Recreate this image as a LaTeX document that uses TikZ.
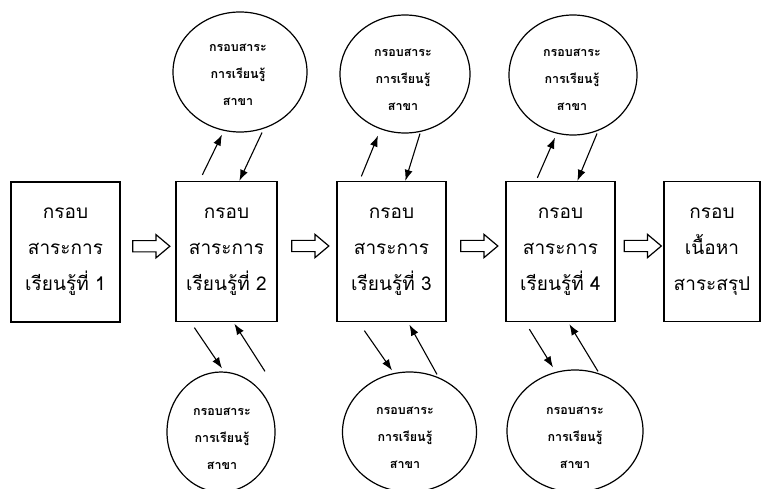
\documentclass[tikz,border=0pt]{standalone}
\usepackage{fontspec}
\newfontfamily\thai[Script=Thai]{Loma}
\usetikzlibrary{shapes.geometric,shapes.arrows,arrows.meta,calc}
\begin{document}
\begin{tikzpicture}[x=1pt,y=-1pt,
  box/.style={draw,line width=1.3pt,minimum width=#1,minimum height=140pt,inner sep=0pt,align=center,font=\thai\fontsize{19}{36}\selectfont},
  ell/.style={draw,ellipse,line width=1.2pt,inner sep=0pt},
  ctext/.style={align=center,inner sep=0pt,font=\thai\bfseries\fontsize{12.5}{27}\selectfont},
  conn/.style={line width=1.1pt,-{Latex[length=11pt,width=8pt]}},
  harrow/.style={draw,line width=1.2pt,single arrow,minimum height=37pt,minimum width=22pt,inner sep=5pt,single arrow head extend=6pt,single arrow tip angle=80}]
\useasboundingbox (0,0) rectangle (763,489);
\fill[white] (0,0) rectangle (763,489);
% boxes
\node[box=109pt] (b1) at (65.5,252) {กรอบ\\สาระการ\\เรียนรู้ที่ 1};
\node[box=101pt] (b2) at (226.5,251.5) {กรอบ\\สาระการ\\เรียนรู้ที่ 2};
\node[box=109pt] (b3) at (391.5,251.5) {กรอบ\\สาระการ\\เรียนรู้ที่ 3};
\node[box=109pt] (b4) at (560.5,251.5) {กรอบ\\สาระการ\\เรียนรู้ที่ 4};
\node[box=96pt] (b5) at (712,251.5) {กรอบ\\เนื้อหา\\สาระสรุป};
% hollow arrows
\node[harrow] (h1) at ($($(b1.east)!0.5!(b2.west)$)+(0,-5.5)$) {};
\node[harrow] (h2) at ($($(b2.east)!0.5!(b3.west)$)+(0,-5.5)$) {};
\node[harrow] (h3) at ($($(b3.east)!0.5!(b4.west)$)+(0,-5.5)$) {};
\node[harrow] (h4) at ($($(b4.east)!0.5!(b5.west)$)+(0,-5.5)$) {};
% ellipses
\node[ell,minimum width=134pt,minimum height=120pt] (c1) at (240,72) {};
\node[ctext] (t1) at (238,75) {กรอบสาระ\\การเรียนรู้\\สาขา};
\node[ell,minimum width=130pt,minimum height=118pt] (c2) at (405,74) {};
\node[ctext] (t2) at (403,80) {กรอบสาระ\\การเรียนรู้\\สาขา};
\node[ell,minimum width=128pt,minimum height=120pt] (c3) at (573,75) {};
\node[ctext] (t3) at (572,80) {กรอบสาระ\\การเรียนรู้\\สาขา};
\node[ell,minimum width=108pt,minimum height=120pt] (c4) at (221,432) {};
\node[ctext] (t4) at (222,439) {กรอบสาระ\\การเรียนรู้\\สาขา};
\node[ell,minimum width=134pt,minimum height=120pt] (c5) at (409.5,432) {};
\node[ctext] (t5) at (405,438) {กรอบสาระ\\การเรียนรู้\\สาขา};
\node[ell,minimum width=136pt,minimum height=122pt] (c6) at (575,431) {};
\node[ctext] (t6) at (575,438) {กรอบสาระ\\การเรียนรู้\\สาขา};
% top connectors
\draw[conn] ([xshift=27pt,yshift=6pt]b2.north west) -- ([xshift=-18pt,yshift=-2pt]c1.south);
\draw[conn] ([xshift=22pt]c1.south) -- ([xshift=64pt]b2.north west);
\draw[conn] ([xshift=25pt,yshift=4.5pt]b3.north west) -- ([xshift=-27pt,yshift=-2pt]c2.south);
\draw[conn] ([xshift=15pt]c2.south) -- ([xshift=69pt]b3.north west);
\draw[conn] ([xshift=32pt,yshift=3pt]b4.north west) -- ([xshift=-18pt,yshift=-2pt]c3.south);
\draw[conn] ([xshift=24pt,yshift=2pt]c3.south) -- ([xshift=72pt]b4.north west);
% bottom connectors
\draw[conn] ([xshift=19pt,yshift=-5.5pt]b2.south west) -- ([xshift=1pt,yshift=3pt]c4.north);
\draw[conn] ([xshift=44pt]c4.north) -- ([xshift=59pt,yshift=-1.5pt]b2.south west);
\draw[conn] ([xshift=28pt,yshift=-8.5pt]b3.south west) -- ([xshift=-17.5pt,yshift=1pt]c5.north);
\draw[conn] ([xshift=27.5pt,yshift=-3pt]c5.north) -- ([xshift=73pt,yshift=-2.5pt]b3.south west);
\draw[conn] ([xshift=24pt,yshift=-7pt]b4.south west) -- ([xshift=-22pt,yshift=2pt]c6.north);
\draw[conn] ([xshift=23pt,yshift=-2pt]c6.north) -- ([xshift=64pt,yshift=-2pt]b4.south west);
\end{tikzpicture}
\end{document}
